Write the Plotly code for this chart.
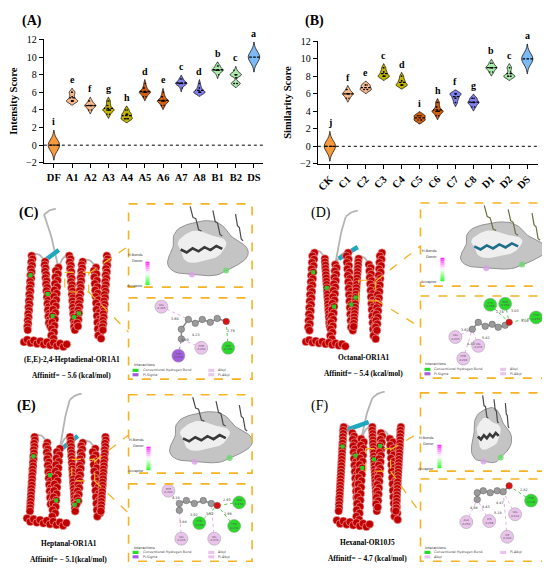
import numpy as np
import plotly.graph_objects as go

SERIF = "Liberation Serif"
# the page body has an 8px margin, so the figure is drawn 8px in from the
# window corner; coordinates below are window pixels
OFF = 8
W, H = 550 - OFF, 578 - OFF

# --------------------------------------------------------------
# Panel A - intensity score per sample
# --------------------------------------------------------------
groups_a = ["DF", "A1", "A2", "A3", "A4", "A5", "A6", "A7", "A8", "B1", "B2", "DS"]
letters_a = ["i", "e", "f", "g", "h", "d", "e", "c", "d", "b", "c", "a"]
df_scores = [-0.5, 0, 0, 0, 0, 0, 0, 0, 0, 0.5]
a1_scores = [5, 5, 5, 5, 5, 5, 5.5, 5.5, 6, 6, 6]
a2_scores = [4, 4, 4.5, 4.5, 4.5, 4.5, 4.5, 4.5, 5, 5]
a3_scores = [3.5, 3.5, 4, 4, 4, 4, 4, 4, 4.5, 4.5, 5, 5]
a4_scores = [3, 3, 3, 3, 3, 3.5, 3.5, 3.5, 3.5, 4, 4]
a5_scores = [5.5, 5.5, 6, 6, 6, 6, 6, 6, 6.5, 6.5, 7]
a6_scores = [4.5, 4.5, 5, 5, 5, 5, 5, 5, 5.5, 5.5, 6]
a7_scores = [6.5, 7, 7, 7, 7, 7, 7, 7.5, 7.5]
a8_scores = [6, 6, 6, 6, 6, 6, 6.5, 6.5, 7]
b1_scores = [8, 8.5, 8.5, 8.5, 8.5, 8.5, 9, 9]
b2_scores = [7, 7, 7, 7, 8, 8, 8, 8, 8, 8.5]
ds_scores = [9.5, 10, 10, 10, 10, 10, 10, 10, 10, 10.5]

# --------------------------------------------------------------
# Panel B - similarity score per sample
# --------------------------------------------------------------
groups_b = ["CK", "C1", "C2", "C3", "C4", "C5", "C6", "C7", "C8", "D1", "D2", "DS"]
letters_b = ["j", "f", "e", "c", "d", "i", "h", "f", "g", "b", "c", "a"]
ck_scores = [-0.5, 0, 0, 0, 0, 0, 0, 0, 0, 0.5]
c1_scores = [5.5, 5.5, 6, 6, 6, 6, 6, 6, 6.5, 6.5]
c2_scores = [6.5, 6.5, 6.5, 6.5, 7, 7, 7]
c3_scores = [8, 8, 8, 8, 8, 8, 8.5, 8.5, 8.5, 9, 9]
c4_scores = [7, 7, 7, 7, 7, 7, 7.5, 7.5, 7.5, 8, 8]
c5_scores = [3, 3, 3, 3.5, 3.5, 3.5]
c6_scores = [3.5, 3.5, 4, 4, 4, 4, 4, 4, 4.5, 4.5, 5, 5]
c7_scores = [5, 5, 5.5, 5.5, 5.5, 6, 6, 6, 6, 6, 6]
c8_scores = [4.5, 4.5, 5, 5, 5, 5, 5, 5.5, 5.5, 5.5]
d1_scores = [8.5, 8.5, 9, 9, 9, 9, 9, 9.5, 9.5]
d2_scores = [8, 8, 8, 8, 8, 8.5, 9, 9]
dsb_scores = [9.5, 10, 10, 10, 10, 10, 10, 10, 10, 10.5]

samples_a = [df_scores, a1_scores, a2_scores, a3_scores, a4_scores, a5_scores,
             a6_scores, a7_scores, a8_scores, b1_scores, b2_scores, ds_scores]
samples_b = [ck_scores, c1_scores, c2_scores, c3_scores, c4_scores, c5_scores,
             c6_scores, c7_scores, c8_scores, d1_scores, d2_scores, dsb_scores]

# colour family per position (same in both panels)
colours = ["#F79A3E", "#F7B98A", "#F7B98A", "#C2B400", "#C2B400", "#D2600E",
           "#D2600E", "#8080EE", "#8080EE", "#A8EAA8", "#A8EAA8", "#7DB9F2"]

# --------------------------------------------------------------
# Panels C-F - docking captions
# --------------------------------------------------------------
dock_titles = ["(E,E)-2,4-Heptadienal-OR1A1", "Octanal-OR1A1",
               "Heptanal-OR1A1", "Hexanal-OR10J5"]
dock_affinity = ["Affinitf= − 5.6 (kcal/mol)", "Affinitf= − 5.4 (kcal/mol)",
                 "Affinitf= − 5.1(kcal/mol)", "Affinitf= − 4.7 (kcal/mol)"]

GREEN, PINK, PURPLE = "#2BD92B", "#EBC4EE", "#A25DE0"

# illustration geometry, in window pixels
# residue: (x, y, colour, name, distance, label x, label y)
panels = [
    dict(tag="(C)", bold=True, tag_xy=(15, 211), capt_xy=(70, 361),
         body=(24, 112, 255, 350), loop_top=(42, 213), strand=((40, 262), (57, 249)),
         pocket=(63, 272, 87, 292), top_box=(127, 202, 251, 287), bot_box=(127, 298, 251, 381),
         conn=((87, 273, 127, 245), (87, 292, 127, 333)),
         blob=(204, 249, 38, 28), bar=(144, 261), lig="#3a3a3a", stick="#4a4a4a",
         chain=[(180, 340), (180, 330), (187, 320), (194, 324), (201, 320), (209, 323), (216, 319)],
         oxy=(225, 322),
         res=[(160, 307, PINK, "VAL<br>A:205", "3.60", 174, 320),
              (177, 357, PURPLE, "TYR<br>A:258", "3.99", 184, 341),
              (200, 349, PINK, "PHE<br>A:206", "4.23", 195, 336),
              (227, 349, GREEN, "SER<br>A:259", "2.79", 230, 332)],
         legend=[(GREEN, "Conventional Hydrogen Bond"), (PURPLE, "Pi-Sigma"),
                 (PINK, "Alkyl"), (PINK, "Pi-Alkyl")]),
    dict(tag="(D)", bold=False, tag_xy=(308, 211), capt_xy=(363, 359),
         body=(307, 386, 252, 350), loop_top=(345, 215), strand=((338, 258), (357, 246)),
         pocket=(358, 280, 375, 301), top_box=(420, 201, 543, 286), bot_box=(420, 296, 543, 380),
         conn=((375, 281, 420, 245), (375, 300, 420, 328)),
         blob=(500, 246, 40, 24), bar=(440, 257), lig="#1E6E8A", stick="#6E6E3C",
         chain=[(472, 330), (478, 323), (485, 327), (492, 325), (498, 328), (505, 326)],
         oxy=(509, 323),
         res=[(490, 305, GREEN, "TYR<br>A:258", "2.74", 500, 312),
              (505, 304, GREEN, "SER<br>A:259", "3.03", 515, 311),
              (536, 318, GREEN, "THR<br>A:279", "3.09", 525, 322),
              (455, 338, PINK, "VAL<br>A:205", "3.62", 465, 331),
              (478, 347, PINK, "VAL<br>A:279", "5.42", 486, 339),
              (463, 360, PINK, "PHE<br>A:206", "4.33", 471, 345)],
         legend=[(GREEN, "Conventional Hydrogen Bond"), (PURPLE, "Pi-Sigma"),
                 (PINK, "Alkyl"), (PINK, "Pi-Alkyl")]),
    dict(tag="(E)", bold=True, tag_xy=(13, 408), capt_xy=(67, 549),
         body=(27, 110, 440, 533), loop_top=(68, 402), strand=((60, 452), (76, 439)),
         pocket=(70, 463, 93, 485), top_box=(127, 397, 251, 477), bot_box=(127, 488, 251, 567),
         conn=((93, 465, 127, 438), (93, 485, 127, 518)),
         blob=(207, 442, 39, 26), bar=(145, 450), lig="#3a3a3a", stick="#4a4a4a",
         chain=[(178, 515), (178, 508), (185, 505), (193, 508), (202, 505), (210, 508)],
         oxy=(216, 510),
         res=[(167, 495, PINK, "PHE<br>A:206", "4.18", 175, 502),
              (198, 528, GREEN, "TYR<br>A:258", "3.62", 209, 519),
              (238, 507, GREEN, "SER<br>A:259", "2.93", 226, 504),
              (233, 531, GREEN, "THR<br>A:279", "2.96", 227, 519),
              (180, 544, PINK, "VAL<br>A:205", "3.84", 182, 527),
              (213, 544, PINK, "VAL<br>A:279", "3.92", 193, 520)],
         legend=[(GREEN, "Conventional Hydrogen Bond"), (PURPLE, "Pi-Sigma"),
                 (PINK, "Alkyl"), (PINK, "Pi-Alkyl")]),
    dict(tag="(F)", bold=False, tag_xy=(308, 408), capt_xy=(367, 548),
         body=(338, 405, 430, 535), loop_top=(372, 400), strand=((345, 433), (368, 425)),
         pocket=(365, 452, 390, 475), top_box=(420, 395, 543, 475), bot_box=(420, 483, 543, 567),
         conn=((390, 453, 420, 435), (390, 475, 420, 518)),
         blob=(490, 440, 19, 28), bar=(437, 448), lig="#3a3a3a", stick="#4a4a4a",
         chain=[(477, 504), (477, 497), (483, 495), (490, 497), (497, 495), (503, 496)],
         oxy=(509, 490),
         res=[(531, 505, GREEN, "THR<br>A:108", "2.82", 524, 494),
              (466, 527, PINK, "ALA<br>A:254", "4.98", 474, 513),
              (489, 526, PINK, "LYS<br>A:258", "4.43", 486, 512),
              (515, 519, PINK, "VAL<br>A:201", "4.47", 500, 508),
              (507, 542, PINK, "ILE<br>A:204", "5.18", 498, 518)],
         legend=[(GREEN, "Conventional Hydrogen Bond"), (PINK, "Alkyl"),
                 (PINK, "Pi-Alkyl")]),
]

fig = go.Figure()


def add_violins(groups, samples, letters, xa, ya):
    for i, (name, vals) in enumerate(zip(groups, samples)):
        wide = i in (0, len(groups) - 1)
        bw = 0.6 if wide else 0.22
        fig.add_trace(go.Violin(
            x=[name] * len(vals), y=vals, xaxis=xa, yaxis=ya,
            bandwidth=bw, spanmode="soft", width=0.62, scalemode="width",
            fillcolor=colours[i], opacity=1, line=dict(color="black", width=0.7),
            points=False if wide else "all", jitter=0.45, pointpos=0,
            marker=dict(color="black", size=1.5),
            meanline=dict(visible=True, color="black", width=1.3),
            box=dict(visible=False), showlegend=False, hoverinfo="skip"))
        fig.add_annotation(x=name, y=max(vals) + 2 * bw, xref=xa, yref=ya,
                           text=letters[i], showarrow=False, yanchor="bottom", yshift=1,
                           font=dict(family=SERIF, size=10, color="black", weight="bold"))


add_violins(groups_a, samples_a, letters_a, "x", "y")
add_violins(groups_b, samples_b, letters_b, "x2", "y2")

for yr in ("y", "y2"):
    fig.add_shape(type="line", xref=yr.replace("y", "x") + " domain", yref=yr,
                  x0=0, x1=1, y0=0, y1=0, line=dict(color="black", width=1, dash="dot"))


# ---------------- illustration helpers (pixel axis x3/y3) ----------------
def deco(x, y, **kw):
    kw.setdefault("mode", "lines")
    fig.add_trace(go.Scatter(x=x, y=y, xaxis="x3", yaxis="y3", showlegend=False,
                             hoverinfo="skip", **kw))


def curve(p0, p1, bend):
    t = np.linspace(0, 1, 14)
    cx = (p0[0] + p1[0]) / 2
    cy = (p0[1] + p1[1]) / 2 + bend
    xs = (1 - t) ** 2 * p0[0] + 2 * (1 - t) * t * cx + t ** 2 * p1[0]
    ys = (1 - t) ** 2 * p0[1] + 2 * (1 - t) * t * cy + t ** 2 * p1[1]
    return list(xs), list(ys)


def zigzag(x0, y0, x1, y1, n, amp):
    t = np.linspace(0, 1, n + 1)
    xs = x0 + (x1 - x0) * t
    ys = y0 + (y1 - y0) * t + amp * np.where(np.arange(n + 1) % 2 == 0, -1, 1)
    return list(xs), list(ys)


def blob(cx, cy, rx, ry, k):
    th = np.linspace(0, 2 * np.pi, 70)
    r = 1 + 0.10 * np.sin(3 * th + k) + 0.06 * np.sin(5 * th + 2 * k)
    return list(cx + rx * r * np.cos(th)), list(cy + ry * r * np.sin(th))


def dashed_box(x0, y0, x1, y1):
    fig.add_shape(type="rect", xref="x3", yref="y3", x0=x0, y0=y0, x1=x1, y1=y1,
                  line=dict(color="#F5B323", width=1.6, dash="dash"))


def add_protein(p):
    x0, x1, y0, y1 = p["body"]
    n = 7
    step = (x1 - x0) / n
    hx, hy, tops, bots = [], [], [], []
    for k in range(n):
        cx = x0 + (k + 0.5) * step
        t0 = y0 + 6 * (k % 3)
        t1 = y1 - 6 * ((k + 1) % 3) - 10
        ts = np.arange(t0, t1, 3.3)
        lean = 5 * (1 if k % 2 else -1)
        xs = cx + lean * (ts - t0) / (t1 - t0) + 1.6 * np.sin(ts * 0.95)
        hx += list(xs) + [None]
        hy += list(ts) + [None]
        tops.append((xs[0], ts[0]))
        bots.append((xs[-1], ts[-1]))
    # flat helix running along the bottom
    bx = np.arange(x0 - 2, x0 + 0.48 * (x1 - x0), 3.3)
    hx += list(bx)
    hy += list(y1 - 8 + 0.12 * (bx - x0) + 1.6 * np.sin(bx * 0.95))
    # loops
    lx, ly = [], []
    for k in range(n - 1):
        if k % 2 == 0:
            cx_, cy_ = curve(tops[k], tops[k + 1], -9)
        else:
            cx_, cy_ = curve(bots[k], bots[k + 1], 8)
        lx += cx_ + [None]
        ly += cy_ + [None]
    sx, sy = curve(tops[2], p["loop_top"], -10)
    lx += sx + [None]
    ly += sy + [None]
    ex, ey = curve(p["loop_top"], (p["loop_top"][0] + 12, p["loop_top"][1] - 6), -3)
    lx += ex
    ly += ey
    deco(lx, ly, line=dict(color="#B4B4B4", width=1.8))
    (ax, ay), (bx2, by2) = p["strand"]
    deco([ax, bx2], [ay, by2], line=dict(color="#1FA8C0", width=4.5))
    deco(hx, hy, mode="markers",
         marker=dict(size=8, symbol="circle", color="#C00000",
                     line=dict(color="#FFD0D0", width=0.5)))
    gx = [hx[i] for i in (6, 35, 62, 90, 112) if hx[i] is not None]
    gy = [hy[i] for i in (6, 35, 62, 90, 112) if hy[i] is not None]
    deco(gx, gy, mode="markers", marker=dict(size=4, color="#22CC22", symbol="square"))


def add_top_box(p):
    x0, y0, x1, y1 = p["top_box"]
    dashed_box(x0, y0, x1, y1)
    cx, cy, rx, ry = p["blob"]
    ox, oy = blob(cx, cy, rx, ry, 0.7)
    deco(ox, oy, fill="toself", fillcolor="#C4C4C4", line=dict(color="#808080", width=0.8))
    ix, iy = blob(cx - rx * 0.12, cy - ry * 0.12, rx * 0.62, ry * 0.55, 1.9)
    deco(ix, iy, fill="toself", fillcolor="#EFEFEF", line=dict(width=0))
    deco([cx + rx * 0.55, cx - rx * 0.35], [cy + ry * 0.75, cy + ry * 0.9], mode="markers",
         marker=dict(size=6, color=["#6AD86A", "#D9A0E6"], opacity=0.8))
    zx, zy = zigzag(cx - rx * 0.65, cy + ry * 0.05, cx + rx * 0.45, cy - ry * 0.1, 7, 1.8)
    deco(zx, zy, line=dict(color=p["lig"], width=2.6))
    for j in range(3):
        sx, sy = zigzag(cx - rx * 0.4 + j * rx * 0.6, y0 + 5 + j * 4,
                        cx - rx * 0.1 + j * rx * 0.55, cy - ry * 0.6 + j * 5, 4, 2.5)
        deco(sx, sy, line=dict(color=p["stick"], width=1.2))
    # H-bond colour bar
    bx, by = p["bar"]
    steps = 12
    for s in range(steps):
        t = s / (steps - 1)
        if t < 0.5:
            u = t / 0.5
            c = (255, int(40 + 215 * u), 255)
        else:
            u = (t - 0.5) / 0.5
            c = (int(255 - 215 * u), 255, int(255 - 215 * u))
        fig.add_shape(type="rect", xref="x3", yref="y3", x0=bx, x1=bx + 4,
                      y0=by + s * 2, y1=by + (s + 1) * 2,
                      fillcolor="rgb(%d,%d,%d)" % c, line=dict(width=0))
    for txt, ty in (("H-Bonds", by - 7), ("Donor", by - 1), ("Acceptor", by + 25)):
        fig.add_annotation(x=bx - 1, y=ty, xref="x3", yref="y3", text=txt, showarrow=False,
                           xanchor="right", font=dict(family="DejaVu Sans", size=3.5, color="#333"))


def add_bottom_box(p):
    x0, y0, x1, y1 = p["bot_box"]
    dashed_box(x0, y0, x1, y1)
    chain = p["chain"]
    oxy = p["oxy"]
    for rx_, ry_, col, lab, dist, lx_, ly_ in p["res"]:
        if col == GREEN:
            tx, ty = oxy
        else:
            d = [(cx_ - rx_) ** 2 + (cy_ - ry_) ** 2 for cx_, cy_ in chain]
            tx, ty = chain[int(np.argmin(d))]
        lc = {GREEN: "#22C022", PINK: "#E39AE8", PURPLE: "#9B4FD9"}[col]
        deco([rx_, tx], [ry_, ty], line=dict(color=lc, width=0.8, dash="dot"))
        fig.add_annotation(x=lx_, y=ly_, xref="x3", yref="y3", text=dist, showarrow=False,
                           font=dict(family="DejaVu Sans", size=3.4, color="#333"))
    deco([c[0] for c in chain] + [oxy[0]], [c[1] for c in chain] + [oxy[1]],
         mode="lines+markers", line=dict(color="#888", width=1.5),
         marker=dict(size=6.5, color=["#9A9A9A"] * len(chain) + ["#E01010"],
                     line=dict(color="#606060", width=0.5)))
    deco([r[0] for r in p["res"]], [r[1] for r in p["res"]], mode="markers+text",
         text=[r[3] for r in p["res"]], textposition="middle center",
         textfont=dict(family="DejaVu Sans", size=2.8, color="#555"),
         marker=dict(size=13, color=[r[2] for r in p["res"]],
                     line=dict(color="#999", width=0.5)))
    fig.add_annotation(x=x0 + 3, y=y1 - 14, xref="x3", yref="y3", text="Interactions",
                       showarrow=False, xanchor="left",
                       font=dict(family="DejaVu Sans", size=3.5, color="#333"))
    for j, (col, lab) in enumerate(p["legend"]):
        lx = x0 + 4 if j < 2 else x0 + 80
        ly = y1 - 9 + 4.5 * (j % 2)
        fig.add_shape(type="rect", xref="x3", yref="y3", x0=lx, x1=lx + 6,
                      y0=ly - 1.6, y1=ly + 1.6, fillcolor=col, line=dict(width=0))
        fig.add_annotation(x=lx + 8, y=ly, xref="x3", yref="y3", text=lab, showarrow=False,
                           xanchor="left", font=dict(family="DejaVu Sans", size=3.3, color="#444"))


for i, p in enumerate(panels):
    add_protein(p)
    px0, py0, px1, py1 = p["pocket"]
    fig.add_shape(type="rect", xref="x3", yref="y3", x0=px0, y0=py0, x1=px1, y1=py1,
                  line=dict(color="#F5B323", width=1.2, dash="dash"))
    for a, b, c, d in p["conn"]:
        fig.add_shape(type="line", xref="x3", yref="y3", x0=a, y0=b, x1=c, y1=d,
                      line=dict(color="#F5B323", width=1.3, dash="dash"))
    add_top_box(p)
    add_bottom_box(p)
    tx, ty = p["tag_xy"]
    fig.add_annotation(x=tx, y=ty, xref="x3", yref="y3", text=p["tag"], showarrow=False,
                       xanchor="left", font=dict(family=SERIF, size=14, color="black",
                                                 weight="bold" if p["bold"] else "normal"))
    cx, cy = p["capt_xy"]
    for txt, dy in ((dock_titles[i], 0), (dock_affinity[i], 16)):
        fig.add_annotation(x=cx, y=cy + dy, xref="x3", yref="y3", text=txt, showarrow=False,
                           font=dict(family=SERIF, size=7.4, color="black", weight="bold"))

# panel tags A/B
for txt, xx in (("(A)", 18), ("(B)", 302)):
    fig.add_annotation(x=xx, y=15, xref="x3", yref="y3", text=txt, showarrow=False,
                       xanchor="left", font=dict(family=SERIF, size=14, color="black",
                                                 weight="bold"))

# --------------------------------------------------------------
# Layout
# --------------------------------------------------------------
ticks_y = [-2, 0, 2, 4, 6, 8, 10, 12]
tick_txt = [str(v).replace("-", "−") for v in ticks_y]
axis_font = dict(family=SERIF, size=10.5, color="black", weight="bold")


def xdom(a, b):
    return [(a - OFF) / W, (b - OFF) / W]


def ydom(top, bottom):
    return [1 - (bottom - OFF) / H, 1 - (top - OFF) / H]


def xaxis_cfg(domain, anchor, rng, angle):
    return dict(domain=domain, anchor=anchor, type="category", range=rng,
                showline=True, linecolor="black", linewidth=1.4, ticks="outside",
                ticklen=4, tickwidth=1.2, tickcolor="black", tickangle=angle,
                showgrid=False, zeroline=False, tickfont=axis_font, fixedrange=True)


def yaxis_cfg(domain, anchor, title):
    return dict(domain=domain, anchor=anchor, range=[-2, 12], tickvals=ticks_y,
                ticktext=tick_txt, showline=True, linecolor="black", linewidth=1.4,
                ticks="outside", ticklen=4, tickwidth=1.2, tickcolor="black",
                showgrid=False, zeroline=False, tickfont=dict(family=SERIF, size=10, color="black"),
                title=dict(text=title, font=axis_font, standoff=6), fixedrange=True)


fig.update_layout(
    width=W, height=H, margin=dict(l=0, r=0, t=0, b=0),
    paper_bgcolor="white", plot_bgcolor="rgba(0,0,0,0)",
    violinmode="overlay", showlegend=False,
    xaxis=xaxis_cfg(xdom(42, 262), "y", [-0.55, 11.5], 0),
    yaxis=yaxis_cfg(ydom(34, 160), "x", "Intensity Score"),
    xaxis2=xaxis_cfg(xdom(317, 538), "y2", [-0.67, 11.6], -45),
    yaxis2=yaxis_cfg(ydom(36, 161), "x2", "Similarity Score"),
    xaxis3=dict(domain=[0, 1], anchor="y3", range=[OFF, 550], visible=False, fixedrange=True),
    yaxis3=dict(domain=[0, 1], anchor="x3", range=[578, OFF], visible=False, fixedrange=True),
)

fig.write_html("out.html")
